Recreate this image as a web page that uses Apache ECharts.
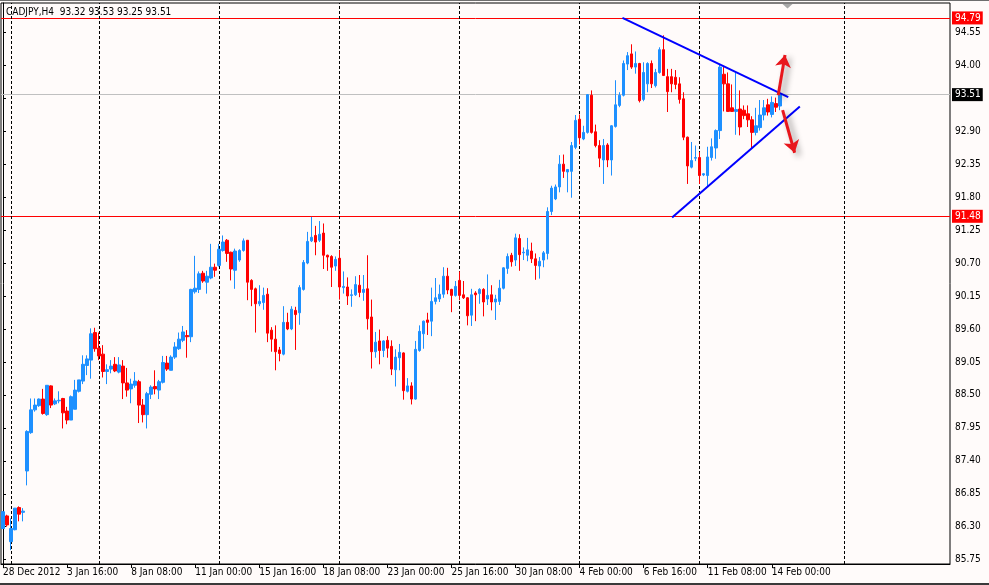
<!DOCTYPE html>
<html><head><meta charset="utf-8">
<script src="https://cdn.jsdelivr.net/npm/echarts@6/dist/echarts.min.js"></script>
<style>html,body{margin:0;padding:0;background:#fffbfa;}#c{width:989px;height:585px;}</style>
</head><body><div id="c"></div>
<script>
const symbolName = 'CADJPY';
const timeframe = 'H4';
const opens = [86.27,86.48,86.05,86.25,86.62,86.54,87.23,87.87,88.25,88.32,
88.43,88.17,88.65,88.35,88.40,88.44,88.23,88.08,88.26,88.56,
88.73,88.99,89.08,89.54,89.28,89.18,88.89,88.93,89.01,88.88,
88.98,88.70,88.60,88.66,88.72,88.33,88.17,88.51,88.64,88.58,
88.71,89.03,88.91,89.13,89.27,89.41,89.49,89.47,90.22,90.26,
90.53,90.38,90.45,90.63,90.66,90.91,91.08,90.88,90.58,90.75,
90.91,91.08,90.41,90.27,90.02,90.04,90.18,89.58,89.43,89.25,
89.18,89.71,89.60,89.91,89.87,90.26,90.70,91.07,91.16,91.08,
91.20,90.83,90.81,90.65,90.78,90.29,90.30,90.16,90.17,90.33,
90.21,90.27,89.80,89.22,89.40,89.24,89.41,89.31,88.92,89.12,
89.20,88.56,88.65,88.43,89.24,89.52,89.75,89.73,90.06,90.10,
90.18,90.48,90.26,90.16,90.41,90.17,90.12,89.83,90.20,90.19,
90.26,90.10,90.17,90.05,90.06,90.28,90.61,90.83,90.75,91.11,
90.87,90.83,90.90,90.77,90.65,90.75,90.86,91.56,91.77,91.97,
92.35,92.22,92.23,92.63,93.10,92.77,92.88,93.50,92.89,92.66,
92.42,92.67,92.42,92.98,93.33,93.50,94.02,94.19,93.97,94.03,
93.43,93.69,94.03,93.66,93.88,94.26,93.81,93.81,93.80,93.69,
93.44,92.80,92.30,92.45,92.46,92.17,92.16,92.46,92.62,92.91,
93.85,93.69,93.29,93.23,93.27,93.25,93.19,93.09,92.88,92.96,
93.17,93.34,93.18,93.36,93.32];
const highs = [86.56,86.50,86.44,86.61,86.64,86.61,87.91,88.44,88.44,88.44,
88.60,88.66,88.66,88.44,88.56,88.45,88.30,88.49,88.75,88.75,
89.16,89.16,89.61,89.62,89.54,89.33,89.01,89.08,89.13,89.13,
89.08,88.95,88.77,88.88,88.75,88.43,88.55,88.66,88.91,88.75,
89.15,89.15,89.16,89.38,89.54,89.65,89.58,90.27,90.82,90.56,
90.57,90.57,91.02,90.69,91.02,91.16,91.10,90.89,90.94,90.93,
91.11,91.08,90.43,90.29,90.33,90.29,90.28,89.63,89.66,89.30,
89.98,89.87,89.98,89.97,90.33,90.75,91.22,91.47,91.32,91.40,
91.36,90.84,90.83,90.81,90.92,90.56,90.46,90.26,90.48,90.50,
90.50,90.83,90.09,89.55,89.59,89.41,89.48,89.41,89.26,89.35,
89.21,88.78,88.71,89.40,89.66,89.74,89.87,90.29,90.45,90.34,
90.63,90.62,90.27,90.40,90.56,90.40,90.13,90.27,90.23,90.28,
90.28,90.51,90.33,90.17,90.42,90.63,90.86,90.87,91.19,91.18,
90.96,91.12,91.04,90.86,90.80,90.90,91.63,91.99,92.01,92.50,
92.51,92.27,92.72,93.17,93.18,92.99,93.52,93.58,93.01,92.75,
92.77,92.70,93.00,93.75,93.55,94.08,94.22,94.35,94.23,94.04,
94.05,94.05,94.08,93.94,94.30,94.50,93.94,93.94,93.92,93.80,
93.55,92.81,92.72,92.66,92.55,92.20,92.64,92.78,92.93,94.01,
93.97,93.88,93.68,93.88,93.58,93.33,93.33,93.15,93.29,93.42,
93.42,93.44,93.48,93.46,93.53];
const lows = [86.26,86.30,85.91,86.24,86.39,86.39,86.99,87.85,88.22,88.30,
88.17,88.15,88.28,88.33,88.36,87.94,88.01,88.08,88.26,88.54,
88.68,88.83,88.77,89.22,89.08,88.79,88.68,88.86,88.88,88.86,
88.43,88.47,88.36,88.62,88.03,88.04,87.94,88.43,88.51,88.43,
88.69,88.90,88.91,89.10,89.25,89.38,89.12,89.38,90.19,90.20,
90.37,90.19,90.43,90.47,90.64,90.89,90.72,90.41,90.27,90.72,
90.89,90.08,89.98,89.54,89.98,89.92,89.38,89.22,88.91,89.06,
89.16,89.58,89.58,89.25,89.67,90.24,90.68,91.05,90.83,91.05,
90.60,90.57,90.30,90.57,90.09,90.19,90.00,89.97,90.15,90.13,
90.07,89.59,88.94,89.12,89.01,89.13,89.12,88.83,88.64,88.91,
88.42,88.54,88.34,88.42,89.22,89.27,89.50,89.48,90.01,90.05,
90.12,90.18,89.88,90.14,90.08,90.10,89.66,89.65,89.73,90.02,
89.81,90.00,89.91,89.75,90.00,90.26,90.52,90.64,90.65,90.57,
90.75,90.73,90.70,90.42,90.44,90.63,90.76,91.50,91.75,91.88,
92.12,91.88,91.79,92.60,92.68,92.75,92.86,92.86,92.63,92.30,
92.02,92.30,92.16,92.96,93.30,93.48,93.92,93.94,93.86,93.38,
93.40,93.55,93.62,93.63,93.86,93.82,93.22,93.55,93.60,93.36,
92.75,92.02,92.28,92.40,92.02,92.15,91.98,92.41,92.44,92.77,
93.23,93.22,93.22,92.84,92.83,93.10,92.97,92.61,92.83,92.91,
93.08,93.16,93.13,93.22,93.25];
const closes = [86.55,86.33,86.27,86.61,86.51,86.56,87.89,88.25,88.33,88.43,
88.19,88.66,88.33,88.40,88.41,88.20,88.08,88.47,88.58,88.75,
89.01,89.10,89.52,89.27,89.15,88.89,88.92,88.98,88.90,89.00,
88.70,88.58,88.68,88.73,88.33,88.17,88.52,88.63,88.60,88.72,
89.04,88.93,89.13,89.30,89.43,89.55,89.47,90.26,90.28,90.52,
90.40,90.48,90.63,90.58,90.93,91.05,90.86,90.60,90.90,90.91,
91.07,90.38,90.26,90.02,90.06,90.16,89.53,89.43,89.22,89.19,
89.71,89.60,89.93,89.84,90.29,90.71,91.06,91.13,91.05,91.18,
90.83,90.80,90.63,90.76,90.30,90.31,90.15,90.17,90.34,90.21,
90.26,89.77,89.22,89.38,89.24,89.40,89.28,88.93,89.13,89.21,
88.57,88.65,88.43,89.26,89.56,89.73,89.71,90.06,90.12,90.18,
90.48,90.25,90.16,90.31,90.16,90.12,89.82,90.17,90.17,90.26,
90.05,90.16,90.05,90.10,90.28,90.62,90.81,90.72,91.12,90.84,
90.88,90.92,90.77,90.66,90.73,90.87,91.56,91.95,91.97,92.35,
92.23,92.26,92.66,93.08,92.79,92.88,93.51,92.88,92.66,92.45,
92.66,92.42,92.99,93.34,93.50,94.03,94.16,93.97,94.03,93.41,
93.88,94.03,93.69,93.88,94.26,93.83,93.56,93.69,93.68,93.43,
92.80,92.32,92.41,92.46,92.16,92.19,92.47,92.64,92.91,93.97,
93.69,93.23,93.23,93.26,92.97,93.16,93.09,92.88,92.99,93.17,
93.29,93.22,93.38,93.30,93.51];
const xLabelIdx = [0,16,32,48,64,80,96,112,128,144,160,176,192];
const xLabels = ['28 Dec 2012','3 Jan 16:00','8 Jan 08:00','11 Jan 00:00','15 Jan 16:00','18 Jan 08:00','23 Jan 00:00','25 Jan 16:00','30 Jan 08:00','4 Feb 00:00','6 Feb 16:00','11 Feb 08:00','14 Feb 00:00'];
const yTicks = [85.75,86.30,86.85,87.40,87.95,88.50,89.05,89.60,90.15,90.70,91.25,91.80,92.35,92.90,93.45,94.00,94.55];
const redLevels = [94.79, 91.48];
const bidPrice = 93.51;
const weekLineIdx = [2,24,54,84,114,144,174,210];
const trendUpper = [[154.7, 94.79],[196.1, 93.47]];
const trendLower = [[167.1, 91.46],[199.0, 93.31]];
const arrowUp = [[193.6, 93.50],[195.3, 94.17]];
const arrowDown = [[194.7, 93.25],[197.7, 92.54]];
const slotCount = 237;
const priceMin = 85.678, priceMax = 95.039;

const FONT = '"Liberation Sans Narrow","DejaVu Sans Condensed","Liberation Sans",Arial,sans-serif';
const chart = echarts.init(document.getElementById('c'), null, {renderer:'canvas'});
const cats = Array.from({length: slotCount}, (_, k) => String(k));
const labelMap = {};
xLabelIdx.forEach((k, j) => { labelMap[k] = xLabels[j]; });
const candleData = opens.map((o, k) => [o, closes[k], lows[k], highs[k]]);
const n = opens.length - 1;
const headerText = symbolName + ',' + timeframe + '  ' + [opens[n], highs[n], lows[n], closes[n]].map(v => v.toFixed(2)).join(' ');

const lvlLabel = (bg) => ({show:true, position:'end', distance:2, formatter: p => Number(p.value).toFixed(2),
  color:'#fff', backgroundColor:bg, padding:[2,2,1,3], fontFamily:FONT, fontSize:10});

const option = {
  animation:false,
  backgroundColor:'#fffbfa',
  grid:{left:1, right:39, top:3, bottom:21, show:true, borderColor:'#000', borderWidth:1, backgroundColor:'transparent'},
  xAxis:[
    {type:'category', data:cats, boundaryGap:true,
     axisLine:{show:true, lineStyle:{color:'#000', width:1}},
     axisTick:{show:true, alignWithLabel:true, interval:(i) => (i in labelMap), length:4, lineStyle:{color:'#000'}},
     axisLabel:{show:true, interval:(i) => (i in labelMap), formatter:(v, i) => labelMap[i] || '', align:'left', margin:3,
       color:'#000', fontFamily:FONT, fontSize:10},
     splitLine:{show:false}},
    {type:'value', min:-0.5, max:slotCount - 0.5, show:false}
  ],
  yAxis:{type:'value', position:'right', min:priceMin, max:priceMax, scale:true,
    splitLine:{show:false},
    axisLine:{show:true, lineStyle:{color:'#000'}},
    axisTick:{show:true, length:3, customValues:yTicks, lineStyle:{color:'#000'}},
    axisLabel:{show:true, customValues:yTicks, formatter:(v) => Number(v).toFixed(2), margin:5, color:'#000', fontFamily:FONT, fontSize:10}},
  series:[
    {type:'lines', coordinateSystem:'cartesian2d', xAxisIndex:1, yAxisIndex:0, silent:true, z:1,
     data: weekLineIdx.map(k => ({coords:[[k, priceMin],[k, priceMax]]})),
     lineStyle:{color:'#000', width:1, type:[3,2], opacity:1}},
    {type:'candlestick', xAxisIndex:0, yAxisIndex:0, data:candleData, barWidth:3, z:2,
     itemStyle:{color:'#1e90ff', color0:'#ff0000', borderColor:'#1e90ff', borderColor0:'#ff0000', borderWidth:1},
     markLine:{silent:true, symbol:['none','none'], animation:false, z:1,
       data:[
         {yAxis:redLevels[0], lineStyle:{color:'#ff0000', width:1, type:'solid'}, label:lvlLabel('#ff0000')},
         {yAxis:redLevels[1], lineStyle:{color:'#ff0000', width:1, type:'solid'}, label:lvlLabel('#ff0000')},
         {yAxis:bidPrice, lineStyle:{color:'#c0c0c0', width:1, type:'solid'}, label:lvlLabel('#000000')}
       ]}},
    {type:'lines', coordinateSystem:'cartesian2d', xAxisIndex:1, yAxisIndex:0, silent:true, z:4,
     data:[{coords:trendUpper},{coords:trendLower}],
     lineStyle:{color:'#0000ff', width:2, opacity:1}},
    {type:'lines', coordinateSystem:'cartesian2d', xAxisIndex:1, yAxisIndex:0, silent:true, z:5,
     data:[{coords:arrowUp},{coords:arrowDown}],
     symbol:['none','arrow'], symbolSize:12,
     lineStyle:{color:'#e8161c', width:3, opacity:1, shadowBlur:6, shadowColor:'rgba(0,0,0,0.45)', shadowOffsetX:4, shadowOffsetY:3}}
  ],
  graphic:[
    {type:'rect', left:0, top:0, shape:{width:989, height:1}, style:{fill:'#6e6e6e'}, silent:true},
    {type:'rect', left:0, top:583, shape:{width:989, height:2}, style:{fill:'#3a3a3a'}, silent:true},
    {type:'polygon', shape:{points:[[782.5,4],[792.5,4],[787.5,8.5]]}, style:{fill:'#a8a8a8'}, silent:true},
    {type:'text', left:6, top:7, style:{text:headerText, fill:'#000', font:'10px ' + FONT}, silent:true, z:10}
  ]
};
chart.setOption(option);
</script>
</body></html>
